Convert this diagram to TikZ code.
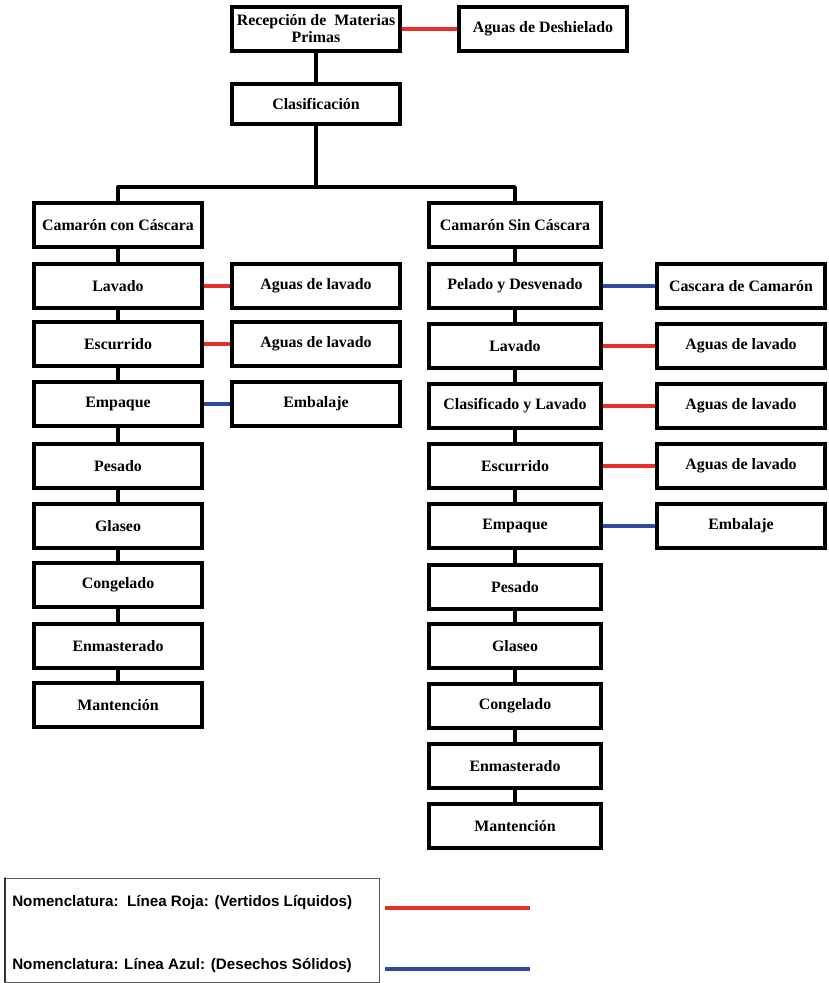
\documentclass[tikz,border=0pt]{standalone}
\usepackage{fontspec}
\setmainfont{Liberation Serif}
\newfontfamily\nomfont{Liberation Sans}
\usepackage{xcolor}
\usetikzlibrary{arrows}
\definecolor{rojo}{RGB}{232,48,40}
\definecolor{azul}{RGB}{48,72,160}
\tikzset{
  caja/.style={draw=black,line width=2.8pt,line join=miter,fill=white,minimum width=4.2cm,minimum height=1.1cm,inner sep=1pt,align=center,font=\bfseries\fontsize{11.3}{12}\selectfont},
  cajab/.style={caja,minimum width=4.28cm},
  flujo/.style={draw=black,line width=2.4pt,line cap=butt},
  liquido/.style={draw=rojo,line width=2.6pt,line cap=butt},
  solido/.style={draw=azul,line width=2.6pt,line cap=butt},
  nomtxt/.style={anchor=west,inner sep=0pt,font=\nomfont\bfseries\fontsize{10.8}{12}\selectfont}
}

\begin{document}
\begin{tikzpicture}[line cap=round,line join=round,x=0.025cm,y=-0.025cm]
\useasboundingbox (0,0) rectangle (828,983);
% cabecera
\node[caja] (rec) at (316,29) {Recepción de\ \ Materias\\Primas};
\node[caja] (desh) at (543,29) {Aguas de Deshielado};
\node[caja,minimum height=1.0cm] (clas) at (316,104) {Clasificación};
\coordinate (rama) at (316,187);
% camaron con cascara
\node[caja] (conc) at (118,225) {Camarón con Cáscara};
\node[caja] (lav1) at (118,286) {Lavado};
\node[caja] (esc1) at (118,344) {Escurrido};
\node[caja] (emp1) at (118,404) {Empaque};
\node[caja] (pes1) at (118,466) {Pesado};
\node[caja] (gla1) at (118,526) {Glaseo};
\node[caja] (con1) at (118,585) {Congelado};
\node[caja] (enm1) at (118,646) {Enmasterado};
\node[caja] (man1) at (118,705) {Mantención};
\node[caja] (agl1) at (316,286) {Aguas de lavado};
\node[caja] (age1) at (316,344) {Aguas de lavado};
\node[caja] (emb1) at (316,404) {Embalaje};
% camaron sin cascara
\node[cajab] (sinc) at (515,225) {Camarón Sin Cáscara};
\node[cajab] (pel2) at (515,286) {Pelado y Desvenado};
\node[cajab] (lav2) at (515,346) {Lavado};
\node[cajab] (cla2) at (515,406) {Clasificado y Lavado};
\node[cajab] (esc2) at (515,466) {Escurrido};
\node[cajab] (emp2) at (515,526) {Empaque};
\node[cajab] (pes2) at (515,587) {Pesado};
\node[cajab] (gla2) at (515,646) {Glaseo};
\node[cajab] (con2) at (515,706) {Congelado};
\node[cajab] (enm2) at (515,766) {Enmasterado};
\node[cajab] (man2) at (515,826) {Mantención};
\node[caja] (cas2) at (741,286) {Cascara de Camarón};
\node[caja] (agl2) at (741,346) {Aguas de lavado};
\node[caja] (agc2) at (741,406) {Aguas de lavado};
\node[caja] (age2) at (741,466) {Aguas de lavado};
\node[caja] (emb2) at (741,526) {Embalaje};
% lineas de proceso
\draw[flujo] (rec) -- (clas);
\draw[flujo] (clas) -- (rama);
\draw[flujo] (conc.north) |- (rama) -| (sinc.north);
\draw[flujo] (conc) -- (lav1);
\draw[flujo] (lav1) -- (esc1);
\draw[flujo] (esc1) -- (emp1);
\draw[flujo] (emp1) -- (pes1);
\draw[flujo] (pes1) -- (gla1);
\draw[flujo] (gla1) -- (con1);
\draw[flujo] (con1) -- (enm1);
\draw[flujo] (enm1) -- (man1);
\draw[flujo] (sinc) -- (pel2);
\draw[flujo] (pel2) -- (lav2);
\draw[flujo] (lav2) -- (cla2);
\draw[flujo] (cla2) -- (esc2);
\draw[flujo] (esc2) -- (emp2);
\draw[flujo] (emp2) -- (pes2);
\draw[flujo] (pes2) -- (gla2);
\draw[flujo] (gla2) -- (con2);
\draw[flujo] (con2) -- (enm2);
\draw[flujo] (enm2) -- (man2);
% residuos
\draw[liquido] (rec.east) -- (desh.west);
\draw[liquido] (lav1.east) -- (agl1.west);
\draw[liquido] (esc1.east) -- (age1.west);
\draw[solido] (emp1.east) -- (emb1.west);
\draw[solido] (pel2.east) -- (cas2.west);
\draw[liquido] (lav2.east) -- (agl2.west);
\draw[liquido] (cla2.east) -- (agc2.west);
\draw[liquido] (esc2.east) -- (age2.west);
\draw[solido] (emp2.east) -- (emb2.west);
% nomenclatura
\draw[gray!70!black,line width=0.6pt,line join=miter] (5,878) rectangle (379,982);
\draw[gray!40!black,line width=1.4pt] (5,878) -- (5,982);
\node[nomtxt] (nomr) at (12,902) {Nomenclatura:\ \ Línea Roja: (Vertidos Líquidos)};
\node[nomtxt] (noma) at (12,965) {Nomenclatura: Línea Azul: (Desechos Sólidos)};
\coordinate (rojoa) at (385,908);
\coordinate (rojob) at (530,908);
\coordinate (azula) at (385,969);
\coordinate (azulb) at (530,969);
\draw[liquido] (rojoa) -- (rojob);
\draw[solido] (azula) -- (azulb);
\end{tikzpicture}
\end{document}
